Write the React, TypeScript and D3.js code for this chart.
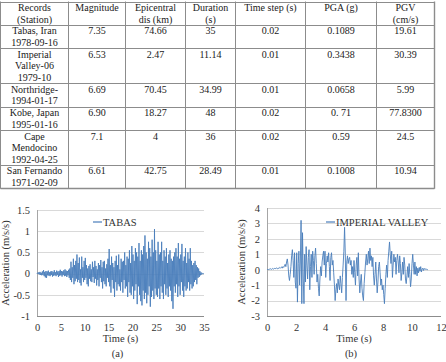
import { useEffect, useRef } from "react";
import * as d3 from "d3";

// ---- record summary table ----
const headers = [
  ["Records", "(Station)"],
  ["Magnitude"],
  ["Epicentral", "dis (km)"],
  ["Duration", "(s)"],
  ["Time step (s)"],
  ["PGA (g)"],
  ["PGV", "(cm/s)"],
];
const records = [
  ["Tabas, Iran", "1978-09-16"],
  ["Imperial", "Valley-06", "1979-10"],
  ["Northridge-", "1994-01-17"],
  ["Kobe, Japan", "1995-01-16"],
  ["Cape", "Mendocino", "1992-04-25"],
  ["San Fernando", "1971-02-09"],
];
const magnitudes = ["7.35", "6.53", "6.69", "6.90", "7.1", "6.61"];
const epicentralDist = ["74.66", "2.47", "70.45", "18.27", "4", "42.75"];
const durations = ["35", "11.14", "34.99", "48", "36", "28.49"];
const timeSteps = ["0.02", "0.01", "0.01", "0.02", "0.02", "0.01"];
const pga = ["0.1089", "0.3438", "0.0658", "0. 71", "0.59", "0.1008"];
const pgv = ["19.61", "30.39", "5.99", "77.8300", "24.5", "10.94"];

// ---- acceleration records (m/s/s), resampled ----
const tabasStep = 0.125;
const tabasAcc = [
  0, 0.02, -0.01, 0.03, -0.02, 0.04, -0.03, 0.02,
  -0.04, 0.05, -0.03, 0.08, -0.06, 0.04, -0.09, 0.06,
  -0.1, 0.05, -0.04, 0.07, -0.05, 0.03, -0.06, 0.05,
  -0.03, 0.06, -0.07, 0.04, -0.05, 0.08, -0.04, 0.03,
  -0.06, 0.07, -0.03, 0.05, -0.08, 0.06, -0.05, 0.09,
  -0.04, 0.06, -0.07, 0.05, -0.03, 0.08, -0.06, 0.1,
  -0.05, 0.07, -0.08, 0.06, -0.04, 0.09, -0.1, 0.12,
  -0.15, 0.28, -0.2, 0.15, -0.1, 0.35, -0.25, 0.2,
  -0.18, 0.3, -0.12, 0.45, -0.2, 0.25, -0.15, 0.38,
  -0.22, 0.1, -0.28, 0.4, -0.1, 0.15, -0.2, 0.3,
  -0.15, 0.37, -0.1, 0.2, -0.25, 0.12, -0.3, 0.18,
  -0.12, 0.22, -0.18, 0.1, -0.2, 0.28, -0.08, 0.15,
  -0.22, 0.3, -0.12, 0.18, -0.28, 0.1, -0.15, 0.25,
  -0.3, 0.2, -0.1, 0.32, -0.2, 0.15, -0.35, 0.28,
  -0.18, 0.3, -0.25, 0.12, -0.3, 0.22, -0.1, 0.35,
  -0.2, 0.58, -0.3, 0.2, -0.45, 0.4, -0.15, 0.25,
  -0.35, 0.15, -0.55, 0.3, -0.2, 0.42, -0.4, 0.2,
  -0.25, 0.45, -0.3, 0.1, -0.4, 0.35, -0.2, 0.28,
  -0.45, 0.3, -0.15, 0.5, -0.35, 0.2, -0.3, 0.4,
  -0.55, 0.35, -0.2, 0.55, -0.45, 0.25, -0.5, 0.65,
  -0.3, 0.45, -0.6, 0.3, -0.4, 0.6, -0.25, 0.5,
  -0.72, 0.4, -0.3, 0.72, -0.5, 0.3, -0.65, 0.55,
  -0.75, 0.45, -0.4, 0.65, -0.6, 0.9, -0.45, 0.5,
  -0.7, 0.35, -0.5, 0.75, -0.3, 0.6, -0.78, 0.4,
  -0.55, 0.8, -0.4, 0.5, -0.6, 1.05, -0.35, 0.55,
  -0.5, 0.3, -0.55, 0.75, -0.35, 0.45, -0.6, 0.5,
  -0.3, 0.75, -0.45, 0.3, -0.6, 0.55, -0.25, 0.4,
  -0.5, 0.6, -0.35, 0.25, -0.55, 0.45, -0.3, 0.55,
  -0.4, 0.35, -0.65, 0.3, -0.83, 0.4, -0.3, 0.5,
  -0.45, 0.6, -0.25, 0.4, -0.55, 0.72, -0.3, 0.35,
  -0.5, 0.45, -0.2, 0.7, -0.4, 0.3, -0.55, 0.4,
  -0.3, 0.6, -0.4, 0.25, -0.35, 0.5, -0.2, 0.35,
  -0.4, 0.6, -0.25, 0.3, -0.35, 0.2, -0.3, 0.25,
  -0.2, 0.3, -0.15, 0.2, -0.25, 0.15, -0.1, 0.12,
  -0.08, 0.06, -0.04, 0.03, -0.02, 0.01, 0, 0,
  0,
];

const imperialStep = 0.05;
const imperialAcc = [
  0, 0.02, 0.01, 0.04, 0.03, 0.06, 0.02, 0.05, 0.08, 0.04, 0.07, 0.1, 0.06, 0.12, 0.08, 0.05, 0.11, 0.15, 0.09, 0.14,
  0.18, 0.1, 0.2, 0.15, 0.25, 0.35, 0.2, 0.5, 0.7, 0.3, -0.4, -0.7, -0.3, 0.2, 0.9, 1.3, 0.6, -0.5, 1.1, -0.8,
  -1.2, 1.1, -2.1, 0.4, 1.2, -1.0, 0.5, 3.2, -2.2, 2.4, -0.6, -2.2, 1.0, -0.8, 1.5, 0.3, -0.6, 0.8, 1.3, -1.3,
  0.2, 1.0, -0.5, 1.2, 0.6, -0.3, 0.9, 1.4, 0.4, -0.8, -0.3, -1.2, -1.7, -0.6, 0.2, -0.4, 0.5, 0.9, 1.2, 0.3,
  1.2, -0.5, 0.4, 0.9, 0.5, 1.1, 0.2, -0.7, 0.8, 1.1, 0.3, 0.6, -0.2, -1.0, -2.0, -1.3, -0.9, -1.5, -0.6, -1.0,
  -1.3, -0.4, -0.9, -1.5, -0.5, 0.3, 1.2, 2.75, 1.0, -2.0, 0.5, 0.9, 0.4, 0.7, 0.8, 0.3, 0.6, -0.3, 0.2, -0.5,
  0.6, -0.2, -1.0, 0.3, 0.8, -0.4, 1.1, -0.6, -1.5, -0.8, -0.3, -1.2, -1.7, -2.0, -0.9, -0.2, 0.5, 1.0, 0.3, 0.7,
  1.2, 0.4, 1.4, 0.6, 0.9, 0.2, 0.8, -0.4, -1.0, -0.3, 0.5, -0.6, -1.5, -0.8, 0.2, 0.5, -0.2, -1.0, -0.6, -1.3,
  -1.0, -1.6, -2.2, -1.2, -0.3, 0.3, -0.5, 0.6, 1.2, 1.8, 1.0, 0.4, 1.2, -0.5, 0.3, 1.0, 0.5, 0.8, -0.3, 0.6,
  1.0, 0.5, -0.2, 0.9, 0.4, -0.7, -0.2, 0.5, -0.3, 0.8, 0.3, -0.6, -0.9, -0.4, 0.2, -0.5, 0.4, -0.3, -1.1, -0.6,
  0.4, 1.0, 0.3, -0.3, 0.5, -0.3, 0.2, -0.4, 0.1, -0.2, 0.15, -0.1, 0.2, -0.15, 0.05, 0.1, -0.05, 0.08, 0.02, 0.05,
  0.03, 0.01, 0,
];

const tabasXTicks = [0, 5, 10, 15, 20, 25, 30, 35];
const tabasYTicks = [-1, -0.5, 0, 0.5, 1, 1.5];
const imperialXTicks = [0, 2, 4, 6, 8, 10, 12];
const imperialYTicks = [-3, -2, -1, 0, 1, 2, 3, 4];

const FONT = "Liberation Serif, Times New Roman, serif";
const BLUE = "#4a7ebb";

type Panel = {
  values: number[];
  step: number;
  xTicks: number[];
  yTicks: number[];
  legend: string;
  caption: string;
  box: { left: number; right: number; top: number; bottom: number };
  legendX: number;
  yTitleX: number;
};

const panels: Panel[] = [
  {
    values: tabasAcc,
    step: tabasStep,
    xTicks: tabasXTicks,
    yTicks: tabasYTicks,
    legend: "TABAS",
    caption: "(a)",
    box: { left: 37, right: 204, top: 210, bottom: 316 },
    legendX: 93,
    yTitleX: 9,
  },
  {
    values: imperialAcc,
    step: imperialStep,
    xTicks: imperialXTicks,
    yTicks: imperialYTicks,
    legend: "IMPERIAL VALLEY",
    caption: "(b)",
    box: { left: 267, right: 441, top: 208, bottom: 316 },
    legendX: 326,
    yTitleX: 245,
  },
];

type Sel = d3.Selection<SVGSVGElement, unknown, null, undefined>;

function drawTable(svg: Sel) {
  const cols = [0.5, 68.5, 125.5, 185.5, 235.5, 305.5, 376.5, 434.5];
  const lineH = 11.5;
  const rows = [
    headers,
    ...records.map((r, i) => [
      r,
      [magnitudes[i]],
      [epicentralDist[i]],
      [durations[i]],
      [timeSteps[i]],
      [pga[i]],
      [pgv[i]],
    ]),
  ];
  let y = 1.5;
  const tops = rows.map((r) => {
    const t = y;
    y += (d3.max(r, (c) => c.length) || 1) * lineH + 0.4;
    return t;
  });
  const bottom = y;

  const g = svg.append("g").style("font-family", FONT).style("font-size", "10px").attr("fill", "#1a1a1a");

  // grid lines
  g.selectAll("line.h")
    .data([...tops, bottom])
    .enter()
    .append("line")
    .attr("x1", cols[0])
    .attr("x2", cols[cols.length - 1])
    .attr("y1", (d) => Math.round(d) + 0.5)
    .attr("y2", (d) => Math.round(d) + 0.5)
    .attr("stroke", "#8c8c8c")
    .attr("stroke-width", (_, i) => (i === tops.length ? 1.6 : 1));
  g.selectAll("line.v")
    .data(cols)
    .enter()
    .append("line")
    .attr("x1", (d) => d)
    .attr("x2", (d) => d)
    .attr("y1", tops[0])
    .attr("y2", bottom + 0.5)
    .attr("stroke", "#8c8c8c")
    .attr("stroke-width", (_, i) => (i === cols.length - 1 ? 1.4 : 1));

  rows.forEach((row, ri) => {
    row.forEach((cell, ci) => {
      const cx = (cols[ci] + cols[ci + 1]) / 2;
      cell.forEach((txt, li) => {
        g.append("text")
          .attr("x", cx)
          .attr("y", tops[ri] + 9.5 + li * lineH)
          .attr("text-anchor", "middle")
          .text(txt);
      });
    });
  });
}

function drawPanel(svg: Sel, p: Panel) {
  const { left, right, top, bottom } = p.box;
  const x = d3
    .scaleLinear()
    .domain([p.xTicks[0], p.xTicks[p.xTicks.length - 1]])
    .range([left, right]);
  const y = d3
    .scaleLinear()
    .domain([p.yTicks[0], p.yTicks[p.yTicks.length - 1]])
    .range([bottom, top]);

  const g = svg.append("g").style("font-family", FONT);

  // horizontal gridlines
  g.selectAll("line.grid")
    .data(p.yTicks.slice(1))
    .enter()
    .append("line")
    .attr("x1", left)
    .attr("x2", right)
    .attr("y1", (d) => Math.round(y(d)) + 0.5)
    .attr("y2", (d) => Math.round(y(d)) + 0.5)
    .attr("stroke", "#d9d9d9");

  // axis lines
  g.append("line")
    .attr("x1", left + 0.5)
    .attr("x2", left + 0.5)
    .attr("y1", top)
    .attr("y2", bottom)
    .attr("stroke", "#a6a6a6");
  g.append("line")
    .attr("x1", left)
    .attr("x2", right)
    .attr("y1", Math.round(bottom) + 0.5)
    .attr("y2", Math.round(bottom) + 0.5)
    .attr("stroke", "#8c8c8c");

  // acceleration trace
  const line = d3
    .line<number>()
    .x((_, i) => x(i * p.step))
    .y((d) => y(d));
  g.append("path")
    .datum(p.values)
    .attr("fill", "none")
    .attr("stroke", BLUE)
    .attr("stroke-width", 0.9)
    .attr("stroke-linejoin", "round")
    .attr("d", line);

  // tick labels
  const yAxis = g
    .append("g")
    .attr("transform", `translate(${left - 4},0)`)
    .call(d3.axisLeft(y).tickValues(p.yTicks).tickSize(0).tickFormat((d) => String(d)));
  const xAxis = g
    .append("g")
    .attr("transform", `translate(0,${bottom + 5})`)
    .call(d3.axisBottom(x).tickValues(p.xTicks).tickSize(0).tickFormat((d) => String(d)));
  [yAxis, xAxis].forEach((a) => {
    a.select(".domain").remove();
    a.attr("font-family", null).attr("font-size", null);
    a.selectAll("text").style("font-family", FONT).style("font-size", "10.5px").attr("fill", "#333");
  });

  // legend
  g.append("line")
    .attr("x1", p.legendX)
    .attr("x2", p.legendX + 9)
    .attr("y1", 222)
    .attr("y2", 222)
    .attr("stroke", BLUE)
    .attr("stroke-width", 1.2);
  g.append("text")
    .attr("x", p.legendX + 10)
    .attr("y", 225.5)
    .style("font-size", "10.5px")
    .attr("fill", "#333")
    .text(p.legend);

  // titles
  const mid = (left + right) / 2;
  g.append("text")
    .attr("x", mid)
    .attr("y", 342)
    .attr("text-anchor", "middle")
    .style("font-size", "10.5px")
    .attr("fill", "#333")
    .text("Time (s)");
  g.append("text")
    .attr("x", mid - 3)
    .attr("y", 357)
    .attr("text-anchor", "middle")
    .style("font-size", "10.5px")
    .attr("fill", "#333")
    .text(p.caption);
  g.append("text")
    .attr("transform", `translate(${p.yTitleX},${(top + bottom) / 2}) rotate(-90)`)
    .attr("text-anchor", "middle")
    .style("font-size", "10.5px")
    .attr("fill", "#333")
    .text("Acceleration (m/s/s)");
}

export default function App() {
  const svgRef = useRef<SVGSVGElement>(null);

  useEffect(() => {
    if (!svgRef.current) return;
    const svg = d3.select(svgRef.current);
    svg.selectAll("*").remove();
    drawTable(svg);
    panels.forEach((p) => drawPanel(svg, p));
  }, []);

  return (
    <svg
      ref={svgRef}
      width={446}
      height={362}
      style={{ position: "absolute", left: 0, top: 0, background: "#fff", fontFamily: FONT }}
    />
  );
}
